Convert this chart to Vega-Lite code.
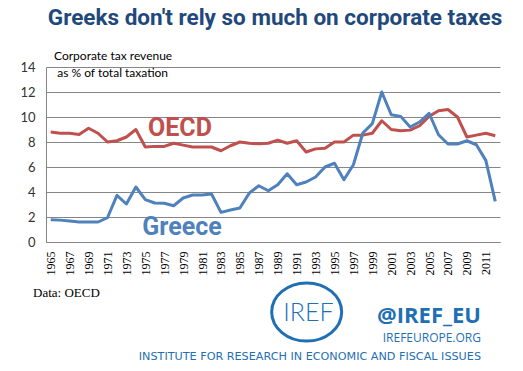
{
  "$schema": "https://vega.github.io/schema/vega-lite/v6.json",
  "autosize": {"type": "none"},
  "padding": {"left": 46, "top": 67, "right": 23, "bottom": 129},
  "width": 454,
  "height": 175,
  "background": "white",
  "config": {
    "view": {"stroke": null},
    "axisX": {"title": null, "grid": false, "format": "d", "labelAngle": -90, "labelFont": "Liberation Serif", "labelFontSize": 12, "labelColor": "#000000", "ticks": false, "tickSize": 0, "labelPadding": 9, "domainColor": "#868686", "domainWidth": 1, "labelOverlap": false, "labelFlush": false},
    "axisY": {"title": null, "grid": true, "gridColor": "#868686", "gridWidth": 1, "ticks": false, "tickSize": 0, "labelPadding": 11, "labelFont": "Lato", "labelFontSize": 13, "labelColor": "#333333", "domainColor": "#868686", "domainWidth": 1, "labelOverlap": false}
  },
  "layer": [
    {
      "data": {"values": [
        {"year":1965,"series":"OECD","value":8.8},{"year":1966,"series":"OECD","value":8.7},{"year":1967,"series":"OECD","value":8.7},{"year":1968,"series":"OECD","value":8.6},{"year":1969,"series":"OECD","value":9.1},{"year":1970,"series":"OECD","value":8.7},{"year":1971,"series":"OECD","value":8.0},{"year":1972,"series":"OECD","value":8.1},{"year":1973,"series":"OECD","value":8.4},{"year":1974,"series":"OECD","value":9.0},{"year":1975,"series":"OECD","value":7.6},{"year":1976,"series":"OECD","value":7.65},{"year":1977,"series":"OECD","value":7.65},{"year":1978,"series":"OECD","value":7.9},{"year":1979,"series":"OECD","value":7.75},{"year":1980,"series":"OECD","value":7.6},{"year":1981,"series":"OECD","value":7.6},{"year":1982,"series":"OECD","value":7.6},{"year":1983,"series":"OECD","value":7.3},{"year":1984,"series":"OECD","value":7.7},{"year":1985,"series":"OECD","value":8.0},{"year":1986,"series":"OECD","value":7.9},{"year":1987,"series":"OECD","value":7.85},{"year":1988,"series":"OECD","value":7.9},{"year":1989,"series":"OECD","value":8.15},{"year":1990,"series":"OECD","value":7.9},{"year":1991,"series":"OECD","value":8.1},{"year":1992,"series":"OECD","value":7.2},{"year":1993,"series":"OECD","value":7.45},{"year":1994,"series":"OECD","value":7.5},{"year":1995,"series":"OECD","value":8.0},{"year":1996,"series":"OECD","value":8.0},{"year":1997,"series":"OECD","value":8.55},{"year":1998,"series":"OECD","value":8.55},{"year":1999,"series":"OECD","value":8.7},{"year":2000,"series":"OECD","value":9.7},{"year":2001,"series":"OECD","value":9.0},{"year":2002,"series":"OECD","value":8.9},{"year":2003,"series":"OECD","value":8.95},{"year":2004,"series":"OECD","value":9.3},{"year":2005,"series":"OECD","value":10.05},{"year":2006,"series":"OECD","value":10.5},{"year":2007,"series":"OECD","value":10.6},{"year":2008,"series":"OECD","value":10.0},{"year":2009,"series":"OECD","value":8.4},{"year":2010,"series":"OECD","value":8.55},{"year":2011,"series":"OECD","value":8.7},{"year":2012,"series":"OECD","value":8.5},
        {"year":1965,"series":"Greece","value":1.78},{"year":1966,"series":"Greece","value":1.75},{"year":1967,"series":"Greece","value":1.68},{"year":1968,"series":"Greece","value":1.6},{"year":1969,"series":"Greece","value":1.6},{"year":1970,"series":"Greece","value":1.6},{"year":1971,"series":"Greece","value":1.94},{"year":1972,"series":"Greece","value":3.73},{"year":1973,"series":"Greece","value":3.04},{"year":1974,"series":"Greece","value":4.4},{"year":1975,"series":"Greece","value":3.39},{"year":1976,"series":"Greece","value":3.12},{"year":1977,"series":"Greece","value":3.1},{"year":1978,"series":"Greece","value":2.9},{"year":1979,"series":"Greece","value":3.52},{"year":1980,"series":"Greece","value":3.76},{"year":1981,"series":"Greece","value":3.76},{"year":1982,"series":"Greece","value":3.84},{"year":1983,"series":"Greece","value":2.37},{"year":1984,"series":"Greece","value":2.56},{"year":1985,"series":"Greece","value":2.72},{"year":1986,"series":"Greece","value":3.92},{"year":1987,"series":"Greece","value":4.5},{"year":1988,"series":"Greece","value":4.1},{"year":1989,"series":"Greece","value":4.58},{"year":1990,"series":"Greece","value":5.46},{"year":1991,"series":"Greece","value":4.58},{"year":1992,"series":"Greece","value":4.8},{"year":1993,"series":"Greece","value":5.2},{"year":1994,"series":"Greece","value":6.0},{"year":1995,"series":"Greece","value":6.3},{"year":1996,"series":"Greece","value":4.98},{"year":1997,"series":"Greece","value":6.18},{"year":1998,"series":"Greece","value":8.72},{"year":1999,"series":"Greece","value":9.47},{"year":2000,"series":"Greece","value":12.0},{"year":2001,"series":"Greece","value":10.18},{"year":2002,"series":"Greece","value":10.05},{"year":2003,"series":"Greece","value":9.2},{"year":2004,"series":"Greece","value":9.6},{"year":2005,"series":"Greece","value":10.3},{"year":2006,"series":"Greece","value":8.58},{"year":2007,"series":"Greece","value":7.84},{"year":2008,"series":"Greece","value":7.84},{"year":2009,"series":"Greece","value":8.1},{"year":2010,"series":"Greece","value":7.78},{"year":2011,"series":"Greece","value":6.53},{"year":2012,"series":"Greece","value":3.25}
      ]},
      "mark": {"type": "line", "strokeWidth": 3, "strokeJoin": "round"},
      "encoding": {
        "x": {
          "field": "year", "type": "quantitative",
          "scale": {"domain": [1964.5, 2012.5], "nice": false, "zero": false},
          "axis": {"values": [1965,1967,1969,1971,1973,1975,1977,1979,1981,1983,1985,1987,1989,1991,1993,1995,1997,1999,2001,2003,2005,2007,2009,2011]}
        },
        "y": {
          "field": "value", "type": "quantitative",
          "scale": {"domain": [0, 14], "nice": false},
          "axis": {"values": [0,2,4,6,8,10,12,14]}
        },
        "color": {
          "field": "series", "type": "nominal",
          "scale": {"domain": ["OECD", "Greece"], "range": ["#C0504D", "#4F81BD"]},
          "legend": null
        }
      }
    },
    {
      "data": {"values": [{}]},
      "mark": {"type": "text", "font": "Roboto", "fontWeight": "bold", "fontSize": 22.5, "color": "#1F497D", "align": "center", "baseline": "alphabetic"},
      "encoding": {"x": {"datum": 1988.71, "axis": {"values": [1965,1967,1969,1971,1973,1975,1977,1979,1981,1983,1985,1987,1989,1991,1993,1995,1997,1999,2001,2003,2005,2007,2009,2011]}}, "y": {"datum": 17.36, "axis": {"values": [0,2,4,6,8,10,12,14]}}, "text": {"value": "Greeks don't rely so much on corporate taxes"}}
    },
    {
      "data": {"values": [{}]},
      "mark": {"type": "text", "font": "Lato", "fontSize": 12, "color": "#000000", "align": "left", "baseline": "alphabetic"},
      "encoding": {"x": {"datum": 1965.35, "axis": {"values": [1965,1967,1969,1971,1973,1975,1977,1979,1981,1983,1985,1987,1989,1991,1993,1995,1997,1999,2001,2003,2005,2007,2009,2011]}}, "y": {"datum": 14.56, "axis": {"values": [0,2,4,6,8,10,12,14]}}, "text": {"value": "Corporate tax revenue"}}
    },
    {
      "data": {"values": [{}]},
      "mark": {"type": "text", "font": "Lato", "fontSize": 12, "color": "#000000", "align": "left", "baseline": "alphabetic"},
      "encoding": {"x": {"datum": 1965.69, "axis": {"values": [1965,1967,1969,1971,1973,1975,1977,1979,1981,1983,1985,1987,1989,1991,1993,1995,1997,1999,2001,2003,2005,2007,2009,2011]}}, "y": {"datum": 13.22, "axis": {"values": [0,2,4,6,8,10,12,14]}}, "text": {"value": "as % of total taxation"}}
    },
    {
      "data": {"values": [{}]},
      "mark": {"type": "text", "font": "Roboto", "fontWeight": "bold", "fontSize": 25, "color": "#C0504D", "align": "center", "baseline": "alphabetic"},
      "encoding": {"x": {"datum": 1978.67, "axis": {"values": [1965,1967,1969,1971,1973,1975,1977,1979,1981,1983,1985,1987,1989,1991,1993,1995,1997,1999,2001,2003,2005,2007,2009,2011]}}, "y": {"datum": 8.48, "axis": {"values": [0,2,4,6,8,10,12,14]}}, "text": {"value": "OECD"}}
    },
    {
      "data": {"values": [{}]},
      "mark": {"type": "text", "font": "Roboto", "fontWeight": "bold", "fontSize": 25, "color": "#4F81BD", "align": "center", "baseline": "alphabetic"},
      "encoding": {"x": {"datum": 1978.88, "axis": {"values": [1965,1967,1969,1971,1973,1975,1977,1979,1981,1983,1985,1987,1989,1991,1993,1995,1997,1999,2001,2003,2005,2007,2009,2011]}}, "y": {"datum": 0.56, "axis": {"values": [0,2,4,6,8,10,12,14]}}, "text": {"value": "Greece"}}
    },
    {
      "data": {"values": [{}]},
      "mark": {"type": "text", "font": "Liberation Serif", "fontSize": 13, "color": "#000000", "align": "left", "baseline": "alphabetic"},
      "encoding": {"x": {"datum": 1963.13, "axis": {"values": [1965,1967,1969,1971,1973,1975,1977,1979,1981,1983,1985,1987,1989,1991,1993,1995,1997,1999,2001,2003,2005,2007,2009,2011]}}, "y": {"datum": -4.4, "axis": {"values": [0,2,4,6,8,10,12,14]}}, "text": {"value": "Data: OECD"}}
    },
    {
      "data": {"values": [{}]},
      "mark": {"type": "point", "shape": "M -1 0 A 1 0.83 0 1 0 1 0 A 1 0.83 0 1 0 -1 0 Z", "size": 4900, "filled": false, "stroke": "#1F6FB5", "strokeWidth": 3, "opacity": 1},
      "encoding": {"x": {"datum": 1992.06, "axis": {"values": [1965,1967,1969,1971,1973,1975,1977,1979,1981,1983,1985,1987,1989,1991,1993,1995,1997,1999,2001,2003,2005,2007,2009,2011]}}, "y": {"datum": -5.6, "axis": {"values": [0,2,4,6,8,10,12,14]}}}
    },
    {
      "data": {"values": [{}]},
      "mark": {"type": "text", "font": "Lato", "fontWeight": 300, "fontSize": 25, "color": "#1F6FB5", "align": "center", "baseline": "alphabetic"},
      "encoding": {"x": {"datum": 1992.25, "axis": {"values": [1965,1967,1969,1971,1973,1975,1977,1979,1981,1983,1985,1987,1989,1991,1993,1995,1997,1999,2001,2003,2005,2007,2009,2011]}}, "y": {"datum": -6.32, "axis": {"values": [0,2,4,6,8,10,12,14]}}, "text": {"value": "IREF"}}
    },
    {
      "data": {"values": [{}]},
      "mark": {"type": "text", "font": "Open Sans", "fontWeight": "bold", "fontSize": 22, "color": "#1F6FB5", "align": "right", "baseline": "alphabetic"},
      "encoding": {"x": {"datum": 2010.49, "axis": {"values": [1965,1967,1969,1971,1973,1975,1977,1979,1981,1983,1985,1987,1989,1991,1993,1995,1997,1999,2001,2003,2005,2007,2009,2011]}}, "y": {"datum": -6.48, "axis": {"values": [0,2,4,6,8,10,12,14]}}, "text": {"value": "@IREF_EU"}}
    },
    {
      "data": {"values": [{}]},
      "mark": {"type": "text", "font": "Open Sans", "fontSize": 12, "color": "#1F6FB5", "align": "right", "baseline": "alphabetic"},
      "encoding": {"x": {"datum": 2010.49, "axis": {"values": [1965,1967,1969,1971,1973,1975,1977,1979,1981,1983,1985,1987,1989,1991,1993,1995,1997,1999,2001,2003,2005,2007,2009,2011]}}, "y": {"datum": -8.0, "axis": {"values": [0,2,4,6,8,10,12,14]}}, "text": {"value": "IREFEUROPE.ORG"}}
    },
    {
      "data": {"values": [{}]},
      "mark": {"type": "text", "font": "DejaVu Sans", "fontSize": 11.2, "color": "#1F6FB5", "align": "right", "baseline": "alphabetic"},
      "encoding": {"x": {"datum": 2010.49, "axis": {"values": [1965,1967,1969,1971,1973,1975,1977,1979,1981,1983,1985,1987,1989,1991,1993,1995,1997,1999,2001,2003,2005,2007,2009,2011]}}, "y": {"datum": -9.44, "axis": {"values": [0,2,4,6,8,10,12,14]}}, "text": {"value": "INSTITUTE FOR RESEARCH IN ECONOMIC AND FISCAL ISSUES"}}
    }
  ]
}
